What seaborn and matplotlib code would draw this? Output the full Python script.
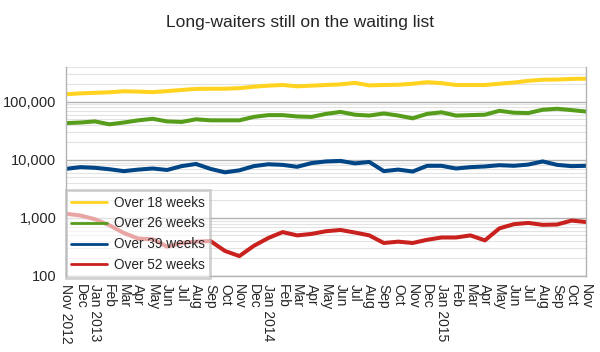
import matplotlib
matplotlib.use("Agg")
import matplotlib.pyplot as plt
import matplotlib.ticker as mticker
import seaborn as sns
import pandas as pd
import numpy as np

months = ["Nov 2012", "Dec", "Jan 2013", "Feb", "Mar", "Apr", "May", "Jun", "Jul", "Aug", "Sep", "Oct",
          "Nov", "Dec", "Jan 2014", "Feb", "Mar", "Apr", "May", "Jun", "Jul", "Aug", "Sep", "Oct",
          "Nov", "Dec", "Jan 2015", "Feb", "Mar", "Apr", "May", "Jun", "Jul", "Aug", "Sep", "Oct", "Nov"]

over18 = [135000, 140000, 143000, 146000, 152000, 150000, 147000, 153000, 160000, 167000, 168000, 168000,
          172000, 182000, 190000, 195000, 185000, 190000, 195000, 200000, 212000, 192000, 195000, 197000,
          205000, 218000, 210000, 195000, 195000, 195000, 205000, 215000, 230000, 240000, 242000, 248000, 250000]
over26 = [43000, 44000, 46000, 41000, 44000, 48000, 51000, 46000, 45000, 50000, 48000, 48000,
          48000, 55000, 59000, 59000, 56000, 55000, 62000, 67000, 60000, 58000, 63000, 58000,
          52000, 62000, 66000, 58000, 59000, 60000, 70000, 65000, 64000, 73000, 76000, 72000, 68000]
over39 = [7000, 7500, 7300, 6900, 6400, 6800, 7100, 6700, 7800, 8500, 7000, 6100,
          6600, 7800, 8400, 8200, 7600, 8800, 9400, 9600, 8700, 9200, 6400, 6800,
          6300, 7900, 7900, 7100, 7500, 7700, 8100, 7900, 8300, 9400, 8200, 7800, 7900]
over52 = [1180, 1100, 950, 750, 550, 440, 430, 320, 370, 390, 400, 270,
          220, 330, 450, 570, 500, 530, 590, 620, 560, 500, 370, 390,
          370, 420, 460, 460, 500, 410, 660, 780, 820, 760, 770, 900, 850]

series_names = ["Over 18 weeks", "Over 26 weeks", "Over 39 weeks", "Over 52 weeks"]
colors = ["#FFD320", "#579D1C", "#004586", "#C9211E"]

frames = []
for name, vals in zip(series_names, [over18, over26, over39, over52]):
    frames.append(pd.DataFrame({"idx": np.arange(len(months)), "value": vals, "series": name}))
df = pd.concat(frames, ignore_index=True)

sns.set_style("white")
plt.rcParams["font.family"] = ["Liberation Sans", "DejaVu Sans"]

fig = plt.figure(figsize=(6.0, 3.52), dpi=100)
ax = fig.add_axes([0.11, 0.216, 0.8667, 0.594])

sns.lineplot(data=df, x="idx", y="value", hue="series", hue_order=series_names,
             palette=colors, linewidth=2.9, ax=ax, legend=True)

ax.set_yscale("log")
ax.set_ylim(100, 400000)
ax.set_xlim(0, len(months) - 1)

ax.yaxis.set_major_locator(mticker.LogLocator(base=10, numticks=10))
ax.yaxis.set_minor_locator(mticker.LogLocator(base=10, subs=np.arange(2, 10), numticks=20))
ax.yaxis.set_major_formatter(mticker.FuncFormatter(lambda v, p: f"{int(round(v)):,}"))
ax.yaxis.set_minor_formatter(mticker.NullFormatter())
ax.grid(True, which="major", axis="y", color="#b3b3b3", linewidth=1.0)
ax.grid(True, which="minor", axis="y", color="#e3e3e3", linewidth=0.8)
ax.set_axisbelow(True)

ax.set_xticks(np.arange(len(months)))
ax.set_xticklabels(months, rotation=-90, fontsize=10, va="top", ha="center")
ax.tick_params(axis="x", which="major", length=4, color="#b3b3b3", direction="out", pad=2)
ax.tick_params(axis="y", which="major", length=4, color="#b3b3b3", labelsize=10.5, pad=3)
ax.tick_params(axis="y", which="minor", length=0)

for side in ["left", "bottom", "right"]:
    ax.spines[side].set_color("#b3b3b3")
    ax.spines[side].set_linewidth(1.0)
ax.spines["top"].set_visible(False)

ax.set_xlabel("")
ax.set_ylabel("")

leg = ax.legend(loc="upper left", bbox_to_anchor=(0.0, 0.41), fontsize=9.8, frameon=True,
                fancybox=False, framealpha=0.6, edgecolor="#b3b3b3", handlelength=2.6,
                borderpad=0.4, labelspacing=0.5, handletextpad=0.5, borderaxespad=0.0)
leg.get_frame().set_linewidth(2.0)
for line in leg.get_lines():
    line.set_linewidth(2.0)

fig.text(0.5, 0.937, "Long-waiters still on the waiting list", ha="center", va="center", fontsize=12.5)

fig.savefig("out.png", dpi=100)
